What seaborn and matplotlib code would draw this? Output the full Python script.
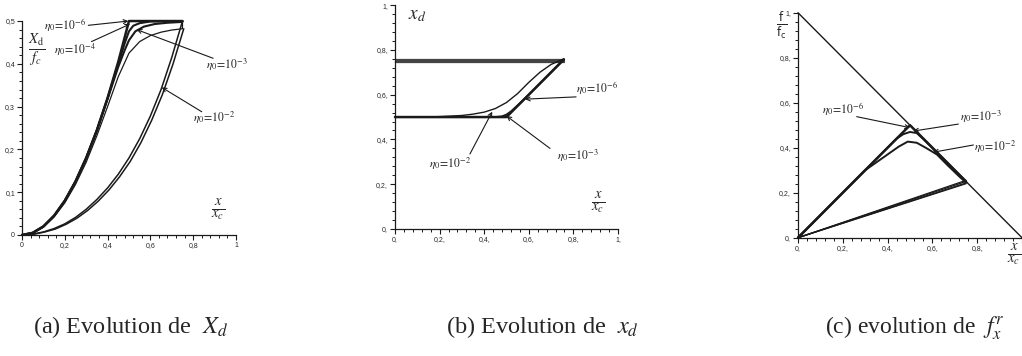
import matplotlib
matplotlib.use("Agg")
import matplotlib.pyplot as plt
from matplotlib.ticker import FixedLocator, MultipleLocator
import seaborn as sns

# --- panel (a): X_d / f_c against x / x_c ---
xa_e6 = [0, 0.05, 0.1, 0.15, 0.2, 0.25, 0.3, 0.35, 0.4, 0.45, 0.5, 0.75]
ya_e6 = [0, 0.005, 0.02, 0.045, 0.08, 0.125, 0.18, 0.245, 0.32, 0.405, 0.5, 0.5]
xa_e4 = [0, 0.05, 0.1, 0.15, 0.2, 0.25, 0.3, 0.35, 0.4, 0.45, 0.48, 0.5, 0.52, 0.55, 0.6, 0.75]
ya_e4 = [0, 0.005, 0.02, 0.045, 0.08, 0.125, 0.18, 0.245, 0.32, 0.4, 0.448, 0.476, 0.489, 0.495, 0.499, 0.5]
xa_e3 = [0, 0.05, 0.1, 0.15, 0.2, 0.25, 0.3, 0.35, 0.4, 0.45, 0.48, 0.5, 0.53, 0.57, 0.62, 0.68, 0.75]
ya_e3 = [0, 0.005, 0.02, 0.045, 0.08, 0.125, 0.18, 0.244, 0.318, 0.393, 0.432, 0.455, 0.476, 0.487, 0.493, 0.496, 0.498]
xa_e2 = [0, 0.05, 0.1, 0.15, 0.2, 0.25, 0.3, 0.35, 0.4, 0.45, 0.5, 0.55, 0.6, 0.65, 0.7, 0.75, 0.75]
ya_e2 = [0, 0.004, 0.018, 0.042, 0.075, 0.118, 0.17, 0.232, 0.3, 0.37, 0.425, 0.452, 0.466, 0.474, 0.479, 0.482, 0.5]
xa_dn1 = [0, 0.05, 0.1, 0.15, 0.2, 0.25, 0.3, 0.35, 0.4, 0.45, 0.5, 0.55, 0.6, 0.65, 0.7, 0.75]
ya_dn1 = [0, 0.002, 0.007, 0.015, 0.026, 0.041, 0.06, 0.083, 0.11, 0.142, 0.18, 0.225, 0.278, 0.34, 0.415, 0.5]
xa_dn2 = [0, 0.056, 0.106, 0.156, 0.206, 0.256, 0.306, 0.356, 0.406, 0.456, 0.506, 0.556, 0.606, 0.656, 0.706, 0.756]
ya_dn2 = [0, 0.002, 0.007, 0.014, 0.025, 0.039, 0.057, 0.079, 0.105, 0.136, 0.172, 0.216, 0.268, 0.328, 0.4, 0.482]

# --- panel (b): x_d against x / x_c ---
xb_e6 = [0, 0.5, 0.757]
yb_e6 = [0.5, 0.5, 0.757]
xb_e3 = [0, 0.45, 0.48, 0.5, 0.52, 0.55, 0.6, 0.757]
yb_e3 = [0.5, 0.5, 0.503, 0.511, 0.525, 0.552, 0.6, 0.757]
xb_e2 = [0.12, 0.2, 0.3, 0.35, 0.4, 0.45, 0.5, 0.55, 0.6, 0.65, 0.7, 0.757]
yb_e2 = [0.5, 0.502, 0.507, 0.513, 0.522, 0.538, 0.565, 0.605, 0.655, 0.7, 0.735, 0.76]
xb_band = [0, 0.757]
yb_band = [0.748, 0.752, 0.756, 0.76]

# --- panel (c): f / f_c against x / x_c ---
xc_diag = [0, 1]
yc_diag = [1, 0]
xc_e6 = [0, 0.5, 0.75]
yc_e6 = [0, 0.5, 0.25]
xc_e3 = [0, 0.44, 0.47, 0.5, 0.53, 0.56, 0.75]
yc_e3 = [0, 0.44, 0.46, 0.47, 0.465, 0.438, 0.25]
xc_e2 = [0, 0.3, 0.35, 0.4, 0.45, 0.49, 0.53, 0.57, 0.62, 0.67, 0.72, 0.75]
yc_e2 = [0, 0.3, 0.335, 0.37, 0.405, 0.427, 0.422, 0.4, 0.37, 0.32, 0.272, 0.245]
xc_back = [0.75, 0.75, 0.755, 0.75]
yc_back = [0.255, 0.25, 0.245, 0.24]

ticks_a_x = ['0', '0,2', '0,4', '0,6', '0,8', '1']
ticks_a_y = ['0', '0,1', '0,2', '0,3', '0,4', '0,5']
ticks_b = ['0,', '0,2,', '0,4,', '0,6,', '0,8,', '1,']
ticks_c_x = ['0,', '0,2,', '0,4,', '0,6,', '0,8,', '']

sns.set_theme(style="ticks")
plt.rcParams['font.family'] = ['Liberation Serif', 'DejaVu Serif']
plt.rcParams['mathtext.fontset'] = 'stix'

fig = plt.figure(figsize=(10.22, 3.56), dpi=100)
ax_a = fig.add_axes([0.0215, 0.3399, 0.2094, 0.601])
ax_b = fig.add_axes([0.3865, 0.3567, 0.2182, 0.629])
ax_c = fig.add_axes([0.7808, 0.3323, 0.2192, 0.632])


def line(ax, xs, ys, lw=1.4, color='k'):
    sns.lineplot(x=xs, y=ys, ax=ax, sort=False, estimator=None, color=color,
                 lw=lw, clip_on=False)


def style_axis(ax, ymax, xlabels, ylabels, yminor):
    ax.set_xlim(0, 1)
    ax.set_ylim(0, ymax)
    sns.despine(ax=ax)
    ax.xaxis.set_major_locator(FixedLocator([0, 0.2, 0.4, 0.6, 0.8, 1.0]))
    ax.yaxis.set_major_locator(FixedLocator([i * ymax / 5 for i in range(6)]))
    ax.set_xticklabels(xlabels)
    ax.set_yticklabels(ylabels)
    ax.xaxis.set_minor_locator(MultipleLocator(0.04))
    ax.yaxis.set_minor_locator(MultipleLocator(yminor))
    ax.tick_params(which='major', direction='out', length=3.5, width=0.8,
                   labelsize=5, pad=1.5, color='k')
    ax.tick_params(which='minor', direction='out', length=2.2, width=0.7, color='k')
    for lab in ax.get_xticklabels() + ax.get_yticklabels():
        lab.set_family('Liberation Sans')
    for s in ('left', 'bottom'):
        ax.spines[s].set_color('k')
        ax.spines[s].set_linewidth(0.9)
    ax.set_xlabel('')
    ax.set_ylabel('')


def note(ax, label, xy, start, pos):
    ax.annotate('', xy=xy, xytext=start,
                arrowprops=dict(arrowstyle='->', lw=0.8, color='k', mutation_scale=7,
                                shrinkA=0, shrinkB=0))
    ax.text(pos[0], pos[1], label, fontsize=8.5, ha='center', va='center')


# (a)
line(ax_a, xa_e6, ya_e6, lw=1.8)
line(ax_a, xa_e4, ya_e4, lw=1.5)
line(ax_a, xa_e3, ya_e3, lw=1.5)
line(ax_a, xa_e2, ya_e2, lw=0.9)
line(ax_a, xa_dn1, ya_dn1, lw=1.1)
line(ax_a, xa_dn2, ya_dn2, lw=1.1)
style_axis(ax_a, 0.5, ticks_a_x, ticks_a_y, 0.02)
note(ax_a, r'$\eta_0\!=\!10^{-6}$', (0.497, 0.5), (0.31, 0.49), (0.2, 0.492))
note(ax_a, r'$\eta_0\!=\!10^{-4}$', (0.505, 0.493), (0.325, 0.452), (0.25, 0.432))
note(ax_a, r'$\eta_0\!=\!10^{-3}$', (0.536, 0.48), (0.893, 0.413), (0.96, 0.397))
note(ax_a, r'$\eta_0\!=\!10^{-2}$', (0.653, 0.345), (0.84, 0.288), (0.9, 0.273))
ax_a.text(0.07, 0.43, r'$\frac{X_{\mathrm{d}}}{f_c}$', fontsize=15, ha='center', va='center')
ax_a.text(0.915, 0.06, r'$\frac{x}{x_c}$', fontsize=15, ha='center', va='center')

# (b)
for yb in yb_band:
    line(ax_b, xb_band, [yb, yb], lw=0.9, color='#444444')
line(ax_b, xb_e6, yb_e6, lw=1.8)
line(ax_b, xb_e3, yb_e3, lw=1.4)
line(ax_b, xb_e2, yb_e2, lw=1.0)
style_axis(ax_b, 1.0, ticks_b, ticks_b, 0.04)
note(ax_b, r'$\eta_0\!=\!10^{-6}$', (0.583, 0.58), (0.812, 0.59), (0.905, 0.633))
note(ax_b, r'$\eta_0\!=\!10^{-2}$', (0.436, 0.524), (0.336, 0.335), (0.247, 0.293))
note(ax_b, r'$\eta_0\!=\!10^{-3}$', (0.5, 0.505), (0.695, 0.36), (0.822, 0.326))
ax_b.text(0.1, 0.955, r'$x_d$', fontsize=14, ha='center', va='center')
ax_b.text(0.912, 0.115, r'$\frac{x}{x_c}$', fontsize=15, ha='center', va='center')

# (c)
line(ax_c, xc_diag, yc_diag, lw=1.0)
for xe, ye in zip(xc_back, yc_back):
    line(ax_c, [0, xe], [0, ye], lw=0.9)
line(ax_c, xc_e6, yc_e6, lw=1.8)
line(ax_c, xc_e3, yc_e3, lw=1.4)
line(ax_c, xc_e2, yc_e2, lw=1.4)
style_axis(ax_c, 1.0, ticks_c_x, ticks_b, 0.04)
note(ax_c, r'$\eta_0\!=\!10^{-6}$', (0.5, 0.489), (0.262, 0.538), (0.202, 0.575))
note(ax_c, r'$\eta_0\!=\!10^{-3}$', (0.515, 0.474), (0.716, 0.505), (0.815, 0.535))
note(ax_c, r'$\eta_0\!=\!10^{-2}$', (0.604, 0.38), (0.783, 0.412), (0.878, 0.405))
ax_c.text(-0.075, 0.945, r'$\frac{\mathrm{f}}{\mathrm{f_c}}$', fontsize=12,
          ha='center', va='center', clip_on=False, math_fontfamily='dejavusans')
ax_c.text(0.965, -0.075, r'$\frac{x}{x_c}$', fontsize=15, ha='center', va='center',
          clip_on=False)

# captions
cap_y = 1 - 333 / 356
fig.text(33 / 1022, cap_y, r'(a) Evolution de  $X_d$', fontsize=17.5, va='baseline')
fig.text(446 / 1022, cap_y, r'(b) Evolution de  $x_d$', fontsize=17.5, va='baseline')
fig.text(825 / 1022, cap_y, r'(c) evolution de  $f_x^r$', fontsize=17, va='baseline')

fig.savefig('out.png', dpi=100)
